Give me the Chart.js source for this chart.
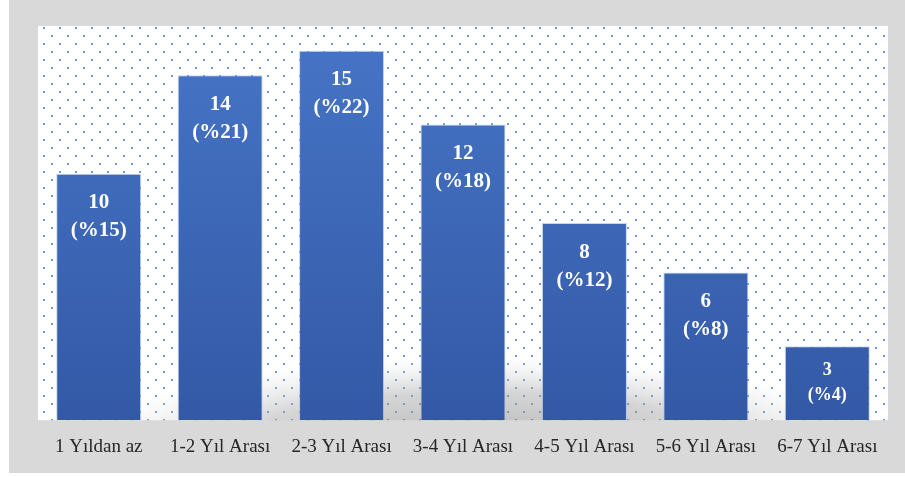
<!DOCTYPE html>
<html>
<head>
<meta charset="utf-8">
<script src="https://cdn.jsdelivr.net/npm/chart.js@4.4.1/dist/chart.umd.min.js"></script>
<style>
  html, body { margin: 0; padding: 0; background: #fff; }
  #wrap { width: 905px; height: 477px; }
</style>
</head>
<body>
<div id="wrap"><canvas id="bar-chart"></canvas></div>
<script>
const categories = ["1 Yıldan az", "1-2 Yıl Arası", "2-3 Yıl Arası", "3-4 Yıl Arası", "4-5 Yıl Arası", "5-6 Yıl Arası", "6-7 Yıl Arası"];
const counts = [10, 14, 15, 12, 8, 6, 3];
const percents = [15, 21, 22, 18, 12, 8, 4];

// dotted fill for the plot area
function dotPattern() {
    const c = document.createElement("canvas");
    c.width = 16;
    c.height = 16;
    const g = c.getContext("2d");
    g.fillStyle = "#fff";
    g.fillRect(0, 0, 16, 16);
    g.fillStyle = "rgba(75,145,215,0.85)";
    g.fillRect(3, 3, 2, 2);
    g.fillRect(11, 11, 2, 2);
    return g.createPattern(c, "repeat");
}

const background = {
    id: "background",
    beforeDraw(chart) {
        const { ctx, chartArea: a } = chart;
        ctx.save();
        ctx.fillStyle = "#d9d9d9";
        ctx.fillRect(9, 0, chart.width - 9, 473);
        ctx.fillStyle = dotPattern();
        ctx.fillRect(a.left, a.top, a.right - a.left, a.bottom - a.top);
        // soft grey sheen near the floor
        ctx.beginPath();
        ctx.rect(a.left, a.top, a.right - a.left, a.bottom - a.top);
        ctx.clip();
        ctx.translate(480, 445);
        ctx.scale(1, 0.22);
        const rg = ctx.createRadialGradient(0, 0, 0, 0, 0, 400);
        rg.addColorStop(0, "rgba(130,130,130,0.6)");
        rg.addColorStop(0.6, "rgba(150,150,150,0.4)");
        rg.addColorStop(1, "rgba(200,200,200,0)");
        ctx.fillStyle = rg;
        ctx.fillRect(-500, -3000, 1000, 6000);
        ctx.restore();
    },
};

const barLabels = {
    id: "barLabels",
    afterDatasetsDraw(chart) {
        const { ctx } = chart;
        const meta = chart.getDatasetMeta(0);
        ctx.save();
        ctx.fillStyle = "#fff";
        ctx.textAlign = "center";
        ctx.textBaseline = "middle";
        meta.data.forEach((bar, i) => {
            const h = bar.base - bar.y;
            const small = h < 100;
            ctx.font = "bold " + (small ? 18 : 21) + "px 'Liberation Serif', serif";
            const gap = small ? 25 : 28;
            const y1 = bar.y + (small ? 24 : 29);
            ctx.fillText(String(counts[i]), bar.x, y1);
            ctx.fillText("(%" + percents[i] + ")", bar.x, y1 + gap);
        });
        ctx.restore();
    },
};

const ctx = document.getElementById("bar-chart");

new Chart(ctx, {
    type: "bar",
    data: {
        labels: categories,
        datasets: [
            {
                data: counts,
                backgroundColor(c) {
                    const a = c.chart.chartArea;
                    if (!a) return "#4472c4";
                    const g = c.chart.ctx.createLinearGradient(0, a.top, 0, a.bottom);
                    g.addColorStop(0, "#4775c7");
                    g.addColorStop(1, "#3359a6");
                    return g;
                },
                borderColor: "rgba(160,185,230,0.6)",
                borderWidth: 1,
                categoryPercentage: 0.7,
                barPercentage: 1,
            },
        ],
    },
    options: {
        responsive: true,
        maintainAspectRatio: false,
        animation: false,
        layout: {
            padding: { left: 38, right: 17, top: 26, bottom: 4 },
        },
        plugins: {
            legend: { display: false },
            tooltip: { enabled: false },
        },
        scales: {
            x: {
                grid: { display: false, drawTicks: false },
                border: { display: false },
                ticks: {
                    padding: 15,
                    color: "#262626",
                    font: { family: "'Liberation Serif', serif", size: 19 },
                },
            },
            y: {
                display: false,
                min: 0,
                max: 16,
            },
        },
    },
    plugins: [background, barLabels],
});
</script>
</body>
</html>
